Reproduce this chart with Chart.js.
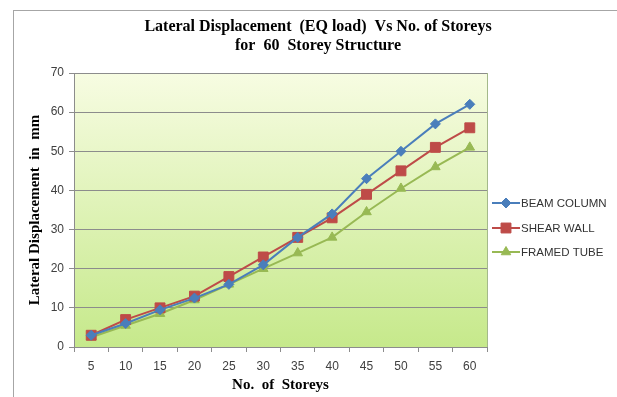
<!DOCTYPE html>
<html>
<head>
<meta charset="utf-8">
<script src="https://cdn.jsdelivr.net/npm/chart.js@4/dist/chart.umd.min.js"></script>
<style>
  html, body { margin: 0; padding: 0; background: #ffffff; overflow: hidden; }
  #wrap { position: relative; width: 617px; height: 397px; overflow: hidden; }
  #frame { position: absolute; left: 13px; top: 10px; width: 700px; height: 500px; border: 1px solid #a6a6a6; box-sizing: border-box; }
  canvas { position: absolute; left: 0; top: 0; }
</style>
</head>
<body>
<div id="wrap">
  <div id="frame"></div>
  <canvas id="c" width="617" height="397"></canvas>
</div>
<script>
const categories = ['5', '10', '15', '20', '25', '30', '35', '40', '45', '50', '55', '60'];
const beamColumn = [3, 6, 9.5, 12.5, 16, 21, 28, 34, 43, 50, 57, 62];
const shearWall = [3, 7, 10, 13, 18, 23, 28, 33, 39, 45, 51, 56];
const framedTube = [2.5, 5.5, 8.5, 12, 16, 20, 24, 28, 34.5, 40.5, 46, 51];
const seriesNames = ['BEAM COLUMN', 'SHEAR WALL', 'FRAMED TUBE'];
const titleLines = ['Lateral Displacement  (EQ load)  Vs No. of Storeys', 'for  60  Storey Structure'];
const yTicks = { min: 0, max: 70, step: 10 };
const xAxisTitle = 'No.  of  Storeys';
const yAxisTitle = 'Lateral Displacement  in  mm';

const bgPlugin = {
  id: 'bg',
  beforeDraw(chart) {
    const a = chart.chartArea, ctx = chart.ctx;
    const g = ctx.createLinearGradient(0, a.top, 0, a.bottom);
    g.addColorStop(0, '#f7fce2');
    g.addColorStop(1, '#c6e98b');
    ctx.save();
    ctx.fillStyle = g;
    ctx.fillRect(a.left, a.top, a.right - a.left, a.bottom - a.top);
    ctx.restore();
  },
  beforeDatasetsDraw(chart) {
    const a = chart.chartArea, ctx = chart.ctx;
    ctx.save();
    ctx.strokeStyle = '#a4b98a';
    ctx.lineWidth = 1;
    ctx.beginPath();
    ctx.moveTo(Math.round(a.right) + 0.5, a.top);
    ctx.lineTo(Math.round(a.right) + 0.5, a.bottom);
    ctx.stroke();
    ctx.restore();
  }
};

const titlePlugin = {
  id: 'ttl',
  afterDraw(chart) {
    const ctx = chart.ctx;
    ctx.save();
    ctx.fillStyle = '#000000';
    ctx.font = 'bold 16px "Liberation Serif", "Times New Roman", serif';
    ctx.textAlign = 'center';
    ctx.textBaseline = 'middle';
    ctx.fillText(titleLines[0], 318, 27);
    ctx.fillText(titleLines[1], 318, 46);
    ctx.restore();
  }
};

const legendPlugin = {
  id: 'lgd',
  afterDraw(chart) {
    const ctx = chart.ctx;
    const rows = [203, 228, 252];
    chart.data.datasets.forEach((ds, i) => {
      const y = rows[i];
      ctx.save();
      ctx.strokeStyle = ds.borderColor;
      ctx.lineWidth = 2;
      ctx.beginPath();
      ctx.moveTo(492, y);
      ctx.lineTo(520, y);
      ctx.stroke();
      ctx.fillStyle = ds.pointBackgroundColor;
      ctx.strokeStyle = ds.pointBorderColor;
      ctx.lineWidth = 1;
      Chart.helpers.drawPoint(ctx, { pointStyle: ds.pointStyle, radius: ds.pointRadius, borderWidth: 1 }, 506, y);
      ctx.fillStyle = '#333333';
      ctx.font = '11.5px "Liberation Sans", Arial, sans-serif';
      ctx.textAlign = 'left';
      ctx.textBaseline = 'middle';
      ctx.fillText(ds.label, 521, y + 1);
      ctx.restore();
    });
  }
};

const mk = (label, data, color, style, r) => ({
  label, data,
  borderColor: color,
  backgroundColor: color,
  pointBackgroundColor: color,
  pointBorderColor: color,
  pointStyle: style,
  pointRadius: r,
  pointBorderWidth: 1,
  borderWidth: 2,
  tension: 0,
  fill: false
});

new Chart(document.getElementById('c'), {
  type: 'line',
  data: {
    labels: categories,
    datasets: [
      mk(seriesNames[0], beamColumn, '#4a7ebb', 'rectRot', 5),
      mk(seriesNames[1], shearWall, '#be4b48', 'rect', 7),
      mk(seriesNames[2], framedTube, '#98b954', 'triangle', 5.5)
    ]
  },
  options: {
    responsive: false,
    animation: false,
    devicePixelRatio: 1,
    layout: { padding: { left: 20, top: 73, right: 130, bottom: 0 } },
    plugins: {
      legend: { display: false },
      title: { display: false },
      tooltip: { enabled: false }
    },
    scales: {
      x: {
        type: 'category',
        offset: true,
        afterFit(s) { s.height = 50; },
        grid: { offset: true, drawOnChartArea: false, drawTicks: true, tickLength: 5, color: '#8c8c8c' },
        border: { color: '#8c8c8c', width: 1 },
        ticks: { color: '#404040', font: { family: '"Liberation Sans", Arial, sans-serif', size: 12 }, padding: 7, maxRotation: 0 },
        title: { display: true, text: xAxisTitle, color: '#000000', font: { family: '"Liberation Serif", "Times New Roman", serif', size: 15, weight: 'bold' }, padding: { top: 0, bottom: 3 } }
      },
      y: {
        min: yTicks.min, max: yTicks.max,
        afterFit(s) { s.width = 54; },
        grid: { color: '#8c8c8c', tickLength: 5, drawTicks: true },
        border: { color: '#8c8c8c', width: 1 },
        ticks: { stepSize: yTicks.step, color: '#404040', font: { family: '"Liberation Sans", Arial, sans-serif', size: 12 }, padding: 5 },
        title: { display: true, text: yAxisTitle, color: '#000000', font: { family: '"Liberation Serif", "Times New Roman", serif', size: 15, weight: 'bold' }, padding: { top: 6, bottom: 0 } }
      }
    }
  },
  plugins: [bgPlugin, titlePlugin, legendPlugin]
});
</script>
</body>
</html>
